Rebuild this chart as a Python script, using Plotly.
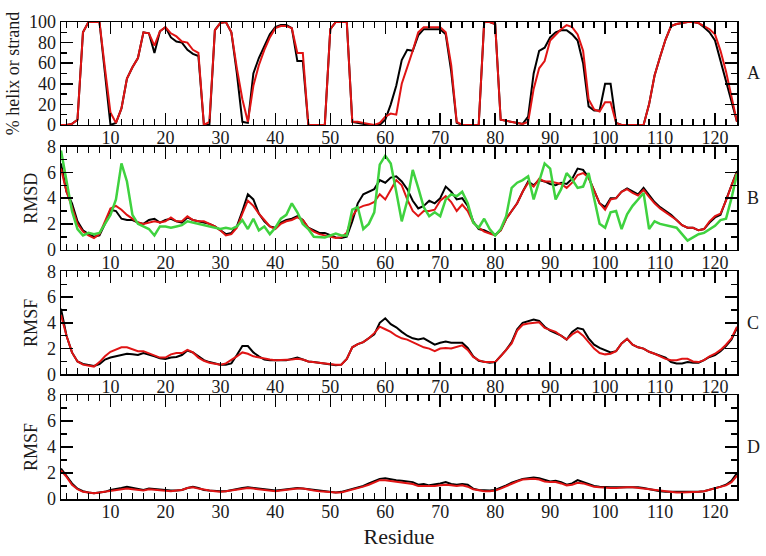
import plotly.graph_objects as go

residues = list(range(1, 125))

helix_black = [
    0, 0, 1, 5, 90, 100, 100, 100, 50, 0,
    2, 16, 45, 56, 65, 90, 89, 70, 91, 95,
    85, 81, 80, 73, 69, 67, 0, 0, 92, 99,
    100, 90, 50, 3, 2, 50, 65, 77, 88, 95,
    97, 97, 94, 62, 62, 0, 0, 0, 0, 93,
    100, 100, 100, 3, 2, 1, 0, 0, 0, 5,
    20, 38, 63, 73, 72, 87, 93, 93, 93, 93,
    88, 52, 2, 0, 0, 0, 0, 100, 100, 98,
    5, 4, 3, 2, 1, 8, 50, 72, 75, 85,
    90, 92, 92, 88, 82, 60, 18, 14, 14, 40,
    40, 2, 0, 0, 0, 0, 0, 20, 48, 66,
    83, 96, 98, 99, 100, 100, 99, 95, 90, 82,
    62, 42, 22, 3,
]
helix_red = [
    0, 0, 1, 5, 90, 100, 100, 100, 55, 12,
    2, 16, 45, 56, 65, 90, 89, 77, 91, 95,
    89, 86, 81, 80, 73, 70, 0, 3, 92, 99,
    100, 90, 55, 25, 3, 38, 58, 73, 85, 94,
    96, 96, 94, 70, 70, 0, 0, 0, 0, 93,
    100, 100, 100, 3, 3, 2, 1, 0, 2, 8,
    11, 10, 40, 55, 72, 90, 95, 95, 95, 95,
    90, 58, 3, 0, 0, 0, 0, 100, 100, 98,
    5, 4, 3, 2, 1, 3, 35, 55, 62, 82,
    88, 93, 97, 95, 88, 72, 25, 15, 13, 22,
    22, 2, 0, 0, 0, 0, 0, 20, 48, 66,
    83, 96, 98, 99, 100, 100, 99, 96, 93, 88,
    72, 52, 28, 3,
]

rmsd_black = [
    6.7, 4.5, 3.6, 2.2, 1.5, 1.2, 1.0, 1.1, 2.0, 3.1,
    3.0, 2.4, 2.3, 2.3, 2.1, 2.0, 2.3, 2.4, 2.1, 2.3,
    2.4, 2.2, 2.1, 2.5, 2.3, 2.2, 2.1, 2.0, 1.8, 1.5,
    1.2, 1.3, 1.8, 3.0, 4.3, 3.9, 2.8, 2.2, 1.8, 1.7,
    2.1, 2.3, 2.4, 2.6, 2.3, 1.7, 1.5, 1.3, 1.3, 1.1,
    0.95, 0.9, 1.0, 2.2, 3.6, 4.3, 4.5, 4.7, 5.4, 5.2,
    5.6, 5.7, 5.3, 4.7, 3.8, 3.2, 3.4, 3.8, 3.6, 4.0,
    4.9, 4.5, 3.9, 4.0, 3.4, 2.2, 1.6, 1.5, 1.3, 1.15,
    1.5, 2.4, 3.0, 3.6, 4.5, 5.3, 5.0, 5.4, 5.3, 5.1,
    5.0, 5.2, 5.1, 5.5, 6.3, 6.2, 5.6, 4.6, 3.6, 3.3,
    4.0, 4.0, 4.5, 4.75, 4.5, 4.3, 4.8, 4.2, 3.7, 3.3,
    3.0, 2.7, 2.3, 1.9, 1.7, 1.7, 1.5, 1.6, 2.1, 2.5,
    2.7, 3.9, 5.0, 6.1,
]
rmsd_red = [
    6.3, 4.5, 3.3, 2.0, 1.4, 1.1, 0.9, 1.2, 2.2, 3.2,
    3.4, 3.1, 2.7, 2.4, 2.1, 2.0, 2.1, 2.2, 2.1, 2.2,
    2.5, 2.2, 2.2, 2.6, 2.3, 2.2, 2.2, 2.0, 1.8, 1.5,
    1.1, 1.2, 1.7, 2.8, 3.8, 3.4, 2.8, 2.3, 1.8, 1.6,
    2.0, 2.2, 2.3, 2.5, 2.3, 1.7, 1.4, 1.2, 1.1, 0.95,
    0.9, 0.95, 1.3, 2.6, 3.2, 3.4, 3.5, 3.7, 4.3, 3.9,
    4.7, 5.4, 5.0, 3.9, 3.0, 2.6, 3.0, 3.0, 3.1, 3.8,
    4.15, 3.7, 3.0, 3.5, 3.0, 2.1, 1.7, 1.4, 1.25, 1.1,
    1.5, 2.4, 3.0, 3.6, 4.5, 5.2, 4.9, 5.5, 5.3, 5.3,
    5.2, 5.1, 4.8, 5.2, 5.8, 5.95, 5.6, 4.6, 3.6, 3.1,
    3.9, 4.0, 4.5, 4.7, 4.4, 4.2, 4.65, 4.1, 3.6, 3.2,
    2.9, 2.6, 2.3, 1.9, 1.7, 1.7, 1.5, 1.6, 2.2, 2.6,
    2.8, 3.8, 5.0, 6.0,
]
rmsd_green = [
    7.7, 5.4, 3.0, 1.6, 1.1, 1.3, 1.2, 1.3, 2.0, 2.7,
    3.9, 6.7, 5.3, 2.7, 2.0, 1.8, 1.6, 1.1, 1.8, 1.8,
    1.7, 1.8, 1.9, 2.2, 2.1, 2.0, 1.9, 1.8, 1.7, 1.6,
    1.7, 1.6, 1.8, 2.3, 1.6, 2.4, 1.5, 1.8, 1.2, 1.7,
    2.4, 2.7, 3.6, 2.9, 2.0, 1.6, 1.0, 0.95, 0.95, 1.1,
    1.25, 1.1, 1.1, 3.1, 3.3, 1.6, 2.0, 2.9, 6.6, 7.3,
    6.7, 4.5, 2.2, 3.8, 6.2, 4.8, 3.3, 2.6, 2.9, 2.6,
    3.9, 4.3, 4.15, 4.5, 3.6, 2.1, 1.7, 2.4, 1.6, 1.1,
    1.6, 2.6, 4.8, 5.2, 5.4, 5.7, 3.9, 5.3, 6.7, 6.3,
    3.9, 4.7, 5.95, 5.45, 4.8, 4.9, 5.95, 4.0, 2.0, 1.7,
    2.9, 3.0, 1.6, 2.75, 3.4, 3.9, 4.4, 1.6, 2.2, 2.0,
    1.9, 1.85, 1.7, 1.2, 0.7, 0.95, 1.2, 1.3, 1.6, 1.85,
    2.3, 2.4, 4.0, 5.9,
]

rmsf_c_black = [
    5.1, 3.0, 1.7, 1.0, 0.8, 0.7, 0.65, 0.8, 1.15, 1.3,
    1.4, 1.55, 1.6, 1.55, 1.5, 1.65, 1.55, 1.4, 1.25, 1.2,
    1.3, 1.35, 1.5, 1.85, 1.7, 1.4, 1.1, 0.95, 0.85, 0.75,
    0.75, 0.85, 1.5, 2.2, 2.2, 1.7, 1.4, 1.15, 1.1, 1.1,
    1.1, 1.1, 1.2, 1.3, 1.15, 1.0, 0.95, 0.9, 0.8, 0.75,
    0.7, 0.75, 1.2, 2.1, 2.35, 2.5, 2.8, 3.1, 4.0, 4.35,
    3.9, 3.65, 3.3, 3.0, 2.8, 2.7, 2.8, 2.55, 2.3, 2.45,
    2.55, 2.45, 2.45, 2.45, 2.05, 1.4, 1.05, 0.95, 0.9, 0.95,
    1.4, 1.9, 2.5, 3.5, 4.0, 4.1, 4.25, 4.15, 3.7, 3.4,
    3.2, 3.0, 2.7, 3.3, 3.6, 3.5, 2.8, 2.3, 2.05, 1.85,
    1.7, 1.8, 2.4, 2.75, 2.3, 2.1, 2.0, 1.75, 1.6, 1.4,
    1.3, 0.95, 0.85, 0.85, 0.95, 0.9, 0.9, 1.1, 1.35, 1.5,
    1.8, 2.2, 2.7, 3.6,
]
rmsf_c_red = [
    4.6, 3.0, 1.7, 1.0, 0.75, 0.65, 0.6, 0.95, 1.4, 1.75,
    1.95, 2.1, 2.1, 1.95, 1.8, 1.8, 1.65, 1.45, 1.3, 1.3,
    1.55, 1.65, 1.65, 1.9, 1.7, 1.3, 1.05, 0.9, 0.85, 0.75,
    0.85, 1.1, 1.4, 1.7, 1.6, 1.4, 1.3, 1.2, 1.15, 1.1,
    1.1, 1.1, 1.15, 1.2, 1.15, 1.0, 0.95, 0.9, 0.8, 0.75,
    0.75, 0.75, 1.2, 2.1, 2.35, 2.5, 2.8, 3.2, 3.7, 3.5,
    3.3, 3.0, 2.8, 2.7, 2.5, 2.3, 2.1, 2.0, 1.8, 2.0,
    2.05, 2.0, 2.1, 2.25, 1.9, 1.35, 1.1, 0.95, 0.95, 0.95,
    1.4, 1.9, 2.4, 3.4, 3.85, 3.95, 4.0, 4.05, 3.6, 3.45,
    3.3, 3.0, 2.7, 3.1, 3.35, 3.0, 2.5, 2.0, 1.65, 1.55,
    1.6, 1.8, 2.4, 2.75, 2.3, 2.1, 2.0, 1.75, 1.6, 1.4,
    1.2, 1.1, 1.1, 1.2, 1.2, 1.0, 0.95, 1.1, 1.4, 1.6,
    1.9, 2.3, 2.8, 3.7,
]

rmsf_d_black = [
    2.35, 1.8, 1.2, 0.8, 0.6, 0.5, 0.45, 0.5, 0.55, 0.7,
    0.75, 0.85, 0.95, 0.85, 0.75, 0.7, 0.8, 0.75, 0.7, 0.65,
    0.65, 0.65, 0.7, 0.85, 0.95, 0.85, 0.7, 0.65, 0.6, 0.6,
    0.6, 0.7, 0.8, 0.85, 0.9, 0.85, 0.8, 0.7, 0.65, 0.65,
    0.7, 0.75, 0.85, 0.85, 0.8, 0.75, 0.7, 0.65, 0.6, 0.55,
    0.5, 0.55, 0.65, 0.75, 0.85, 1.0, 1.2, 1.4, 1.55, 1.6,
    1.5, 1.45, 1.4, 1.35, 1.3, 1.1, 1.15, 1.05, 1.1, 1.2,
    1.3, 1.15, 1.1, 1.15, 1.1, 0.8, 0.7, 0.65, 0.65, 0.7,
    0.85, 1.05, 1.25, 1.4, 1.55, 1.6, 1.65, 1.6, 1.45, 1.35,
    1.4, 1.3, 1.1, 1.2, 1.45, 1.3, 1.15, 1.0, 0.95, 0.9,
    0.9, 0.9, 0.9, 0.95, 0.9, 0.9, 0.85, 0.75, 0.65, 0.6,
    0.55, 0.55, 0.5, 0.5, 0.5, 0.5, 0.55, 0.6, 0.7, 0.8,
    0.95, 1.1, 1.4, 2.0,
]
rmsf_d_red = [
    2.2, 1.7, 1.1, 0.75, 0.55, 0.5, 0.45, 0.5, 0.55, 0.65,
    0.7, 0.75, 0.8, 0.75, 0.7, 0.65, 0.75, 0.7, 0.65, 0.65,
    0.6, 0.65, 0.7, 0.85, 0.9, 0.8, 0.7, 0.65, 0.6, 0.55,
    0.6, 0.65, 0.75, 0.8, 0.85, 0.8, 0.75, 0.7, 0.65, 0.6,
    0.65, 0.7, 0.8, 0.8, 0.8, 0.7, 0.65, 0.6, 0.55, 0.5,
    0.5, 0.5, 0.6, 0.7, 0.8, 0.95, 1.1, 1.3, 1.45, 1.45,
    1.4, 1.35, 1.3, 1.2, 1.15, 1.0, 1.0, 0.95, 1.0, 1.05,
    1.1, 1.05, 1.0, 1.05, 0.95, 0.75, 0.65, 0.6, 0.6, 0.65,
    0.8, 1.0, 1.2, 1.35, 1.5, 1.55, 1.55, 1.5, 1.35, 1.3,
    1.3, 1.2, 1.05, 1.1, 1.25, 1.2, 1.05, 0.95, 0.9, 0.85,
    0.85, 0.85, 0.9, 0.9, 0.9, 0.85, 0.8, 0.7, 0.65, 0.6,
    0.55, 0.5, 0.5, 0.5, 0.5, 0.5, 0.55, 0.6, 0.7, 0.8,
    0.9, 1.05, 1.3, 1.8,
]

panel_letters = ["A", "B", "C", "D"]
y_titles = ["% helix or strand", "RMSD", "RMSF", "RMSF"]

BLACK = "#000000"
RED = "#e01414"
GREEN = "#3fd23f"
FONT = "Liberation Serif, Times New Roman, serif"
TXT = "#1a1a1a"

panels = [
    [(helix_black, BLACK, 2), (helix_red, RED, 2)],
    [(rmsd_black, BLACK, 2), (rmsd_red, RED, 2), (rmsd_green, GREEN, 2.5)],
    [(rmsf_c_black, BLACK, 2), (rmsf_c_red, RED, 2)],
    [(rmsf_d_black, BLACK, 2), (rmsf_d_red, RED, 2)],
]

# pixel layout
W, H = 766, 556
ML, MR, MT, MB = 60, 29, 19, 55
plot_h = H - MT - MB
panel_px = [(19, 123), (145, 249), (271, 375), (396, 501)]
domains = [[(501 - b) / plot_h, (501 - t) / plot_h] for (t, b) in panel_px]

fig = go.Figure()
layout = dict(
    width=W, height=H,
    margin=dict(l=ML, r=MR, t=MT, b=MB),
    paper_bgcolor="white", plot_bgcolor="white",
    showlegend=False,
    font=dict(family=FONT, color=TXT),
)

annotations = []
for i, series in enumerate(panels):
    n = i + 1
    xa = "x" if n == 1 else f"x{n}"
    ya = "y" if n == 1 else f"y{n}"
    for vals, col, lw in series:
        fig.add_trace(go.Scatter(x=residues, y=vals, mode="lines",
                                 line=dict(color=col, width=lw),
                                 xaxis=xa, yaxis=ya, hoverinfo="skip"))
    xkey = "xaxis" if n == 1 else f"xaxis{n}"
    ykey = "yaxis" if n == 1 else f"yaxis{n}"
    layout[xkey] = dict(
        domain=[0, 1], anchor=ya, range=[1, 124],
        tickmode="linear", tick0=0, dtick=10,
        ticks="inside", ticklen=12, tickwidth=1.5, tickcolor="black",
        minor=dict(ticks="inside", tick0=0, dtick=2, ticklen=6, tickwidth=1.5, tickcolor="black"),
        showline=True, linewidth=1.5, linecolor="black", mirror="allticks",
        showgrid=False, zeroline=False,
        tickfont=dict(family=FONT, size=18, color=TXT),
        ticklabelstandoff=-4,
    )
    if i == 0:
        yr, ydt, ymin = [0, 100], 20, 10
    else:
        yr, ydt, ymin = [0, 8], 2, 1
    layout[ykey] = dict(
        domain=domains[i], anchor=xa, range=yr,
        tickmode="linear", tick0=0, dtick=ydt,
        ticks="inside", ticklen=12, tickwidth=1.5, tickcolor="black",
        minor=dict(ticks="inside", tick0=0, dtick=ymin, ticklen=6, tickwidth=1.5, tickcolor="black"),
        showline=True, linewidth=1.5, linecolor="black", mirror="allticks",
        showgrid=False, zeroline=False,
        tickfont=dict(family=FONT, size=18, color=TXT),
        title=dict(text=y_titles[i], font=dict(family=FONT, size=18, color=TXT), standoff=4),
    )
    annotations.append(dict(
        text=panel_letters[i], xref="paper", yref="paper",
        x=1.024, y=(domains[i][0] + domains[i][1]) / 2,
        xanchor="center", yanchor="middle", showarrow=False,
        font=dict(family=FONT, size=18, color=TXT),
    ))

layout["xaxis4"]["title"] = dict(text="Residue", font=dict(family=FONT, size=22, color=TXT), standoff=7)
layout["annotations"] = annotations
fig.update_layout(**layout)

fig.write_html("out.html", config={"displayModeBar": False, "staticPlot": True})

# remove the browser's default body margin so the figure sits at the page origin
with open("out.html", "r", encoding="utf-8") as f:
    html = f.read()
html = html.replace("<head>", "<head><style>html,body{margin:0;padding:0;overflow:hidden;}</style>", 1)
with open("out.html", "w", encoding="utf-8") as f:
    f.write(html)
